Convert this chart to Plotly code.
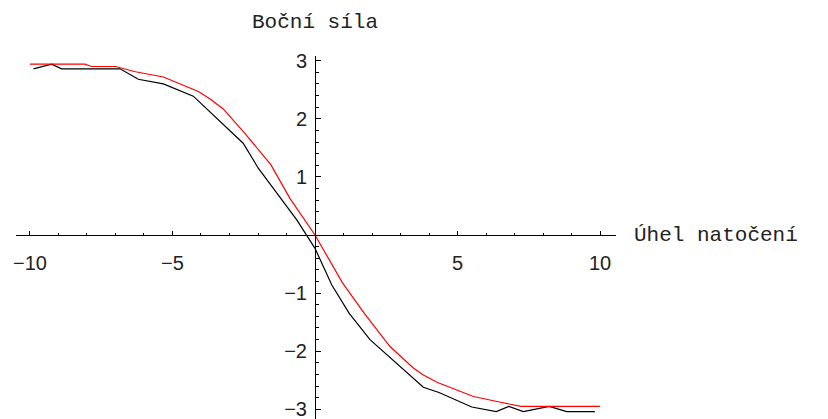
import plotly.graph_objects as go

# Measured lateral force (black) and fitted model (red) vs. steering angle
angle_measured = [-9.88, -9.24, -8.89, -6.84, -6.20, -5.32, -4.27, -2.52, -1.99, -1.40,
                  -0.64, 0.00, 0.59, 1.20, 1.93, 3.80, 4.35, 5.50, 6.36, 6.80,
                  7.31, 8.22, 8.83, 9.82]
force_measured = [2.86, 2.94, 2.86, 2.86, 2.68, 2.60, 2.39, 1.58, 1.15, 0.77,
                  0.26, -0.23, -0.86, -1.35, -1.80, -2.62, -2.71, -2.96, -3.04, -2.95,
                  -3.04, -2.95, -3.04, -3.04]

angle_model = [-10.0, -8.07, -7.84, -7.00, -6.30, -5.32, -4.09, -3.68, -3.22, -2.46,
               -1.55, -0.88, 0.00, 0.96, 1.73, 2.63, 3.45, 3.80, 4.30, 5.56,
               6.43, 7.22, 8.19, 10.0]
force_model = [2.94, 2.94, 2.90, 2.90, 2.81, 2.72, 2.47, 2.34, 2.17, 1.75,
               1.21, 0.63, 0.00, -0.82, -1.35, -1.92, -2.29, -2.41, -2.54, -2.78,
               -2.87, -2.95, -2.95, -2.95]

x_ticks = [-10, -5, 5, 10]
y_ticks = [-3, -2, -1, 1, 2, 3]
x_label = "Úhel natočení"
y_label = "Boční síla"

X_RANGE = [-10.49, 10.56]
Y_RANGE = [-3.167, 3.081]

fig = go.Figure()
fig.add_trace(go.Scatter(x=angle_measured, y=force_measured, mode="lines",
                         line=dict(color="black", width=1.2), showlegend=False))
fig.add_trace(go.Scatter(x=angle_model, y=force_model, mode="lines",
                         line=dict(color="#ff0000", width=1.2), showlegend=False))

tick_font = dict(family="Liberation Sans, Arial, sans-serif", size=20, color="#222")
label_font = dict(family="Liberation Mono, Courier New, monospace", size=21, color="#222")

# Axes cross at the origin: place each axis line where the other axis is zero
x_pos = (0 - Y_RANGE[0]) / (Y_RANGE[1] - Y_RANGE[0])
y_pos = (0 - X_RANGE[0]) / (X_RANGE[1] - X_RANGE[0])

fig.update_layout(
    width=828, height=419,
    margin=dict(l=16, r=212, t=56, b=0),
    paper_bgcolor="white", plot_bgcolor="white",
    xaxis=dict(range=X_RANGE, domain=[0, 1], anchor="free", position=x_pos,
               showgrid=False, zeroline=False, showline=True, linecolor="black", linewidth=1,
               tickmode="array", tickvals=x_ticks, ticks="inside", ticklen=4,
               tickcolor="black", tickfont=tick_font, ticklabelstandoff=10,
               ticklabeloverflow="allow",
               minor=dict(tickmode="linear", tick0=0, dtick=1, ticks="inside",
                          ticklen=2, tickcolor="black", showgrid=False)),
    yaxis=dict(range=Y_RANGE, domain=[0, 1], anchor="free", position=y_pos,
               showgrid=False, zeroline=False, showline=True, linecolor="black", linewidth=1,
               tickmode="array", tickvals=y_ticks, ticks="inside", ticklen=5,
               tickcolor="black", tickfont=tick_font, ticklabelstandoff=4,
               ticklabeloverflow="allow",
               minor=dict(tickmode="linear", tick0=0, dtick=0.2, ticks="inside",
                          ticklen=2.5, tickcolor="black", showgrid=False)),
    annotations=[
        dict(text=y_label, x=0, xref="x", y=1, yref="paper", xanchor="center",
             yanchor="bottom", yshift=20, showarrow=False, font=label_font),
        dict(text=x_label, x=1, xref="paper", y=0, yref="y", xanchor="left",
             yanchor="middle", xshift=16, showarrow=False, font=label_font),
    ],
)

fig.write_html("out.html")
